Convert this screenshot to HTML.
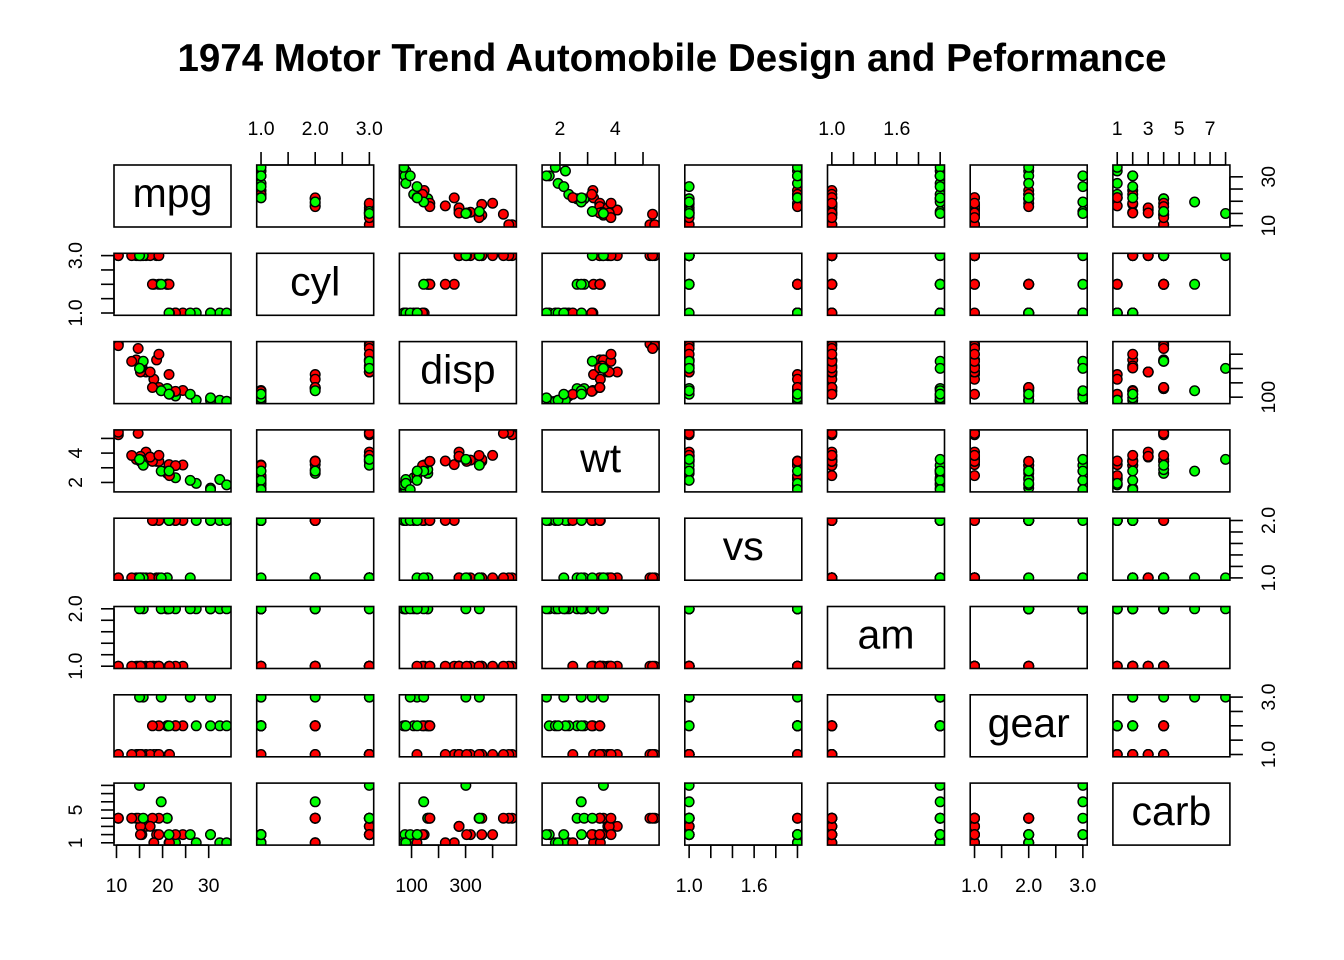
<!DOCTYPE html>
<html><head><meta charset="utf-8"><style>
html,body{margin:0;padding:0;background:#fff;}
svg{display:block;font-family:"Liberation Sans",Arial,sans-serif;}
</style></head><body>
<svg id="chart" width="1344" height="960" viewBox="0 0 1344 960" xmlns="http://www.w3.org/2000/svg">
<text x="672" y="71" text-anchor="middle" font-size="38.5" font-weight="bold">1974 Motor Trend Automobile Design and Peformance</text>
</svg>
<script>
const varNames = ["mpg","cyl","disp","wt","vs","am","gear","carb"];
const mpg  = [21.0,21.0,22.8,21.4,18.7,18.1,14.3,24.4,22.8,19.2,17.8,16.4,17.3,15.2,10.4,10.4,14.7,32.4,30.4,33.9,21.5,15.5,15.2,13.3,19.2,27.3,26.0,30.4,15.8,19.7,15.0,21.4];
const cyl  = [2,2,1,2,3,2,3,1,1,2,2,3,3,3,3,3,3,1,1,1,1,3,3,3,3,1,1,1,3,2,3,1];
const disp = [160,160,108,258,360,225,360,146.7,140.8,167.6,167.6,275.8,275.8,275.8,472,460,440,78.7,75.7,71.1,120.1,318,304,350,400,79,120.3,95.1,351,145,301,121];
const wt   = [2.620,2.875,2.320,3.215,3.440,3.460,3.570,3.190,3.150,3.440,3.440,4.070,3.730,3.780,5.250,5.424,5.345,2.200,1.615,1.835,2.465,3.520,3.435,3.840,3.845,1.935,2.140,1.513,3.170,2.770,3.570,2.780];
const vs   = [1,1,2,2,1,2,1,2,2,2,2,1,1,1,1,1,1,2,2,2,2,1,1,1,1,2,1,2,1,1,1,2];
const am   = [2,2,2,1,1,1,1,1,1,1,1,1,1,1,1,1,1,2,2,2,1,1,1,1,1,2,2,2,2,2,2,2];
const gear = [2,2,2,1,1,1,1,2,2,2,2,1,1,1,1,1,1,2,2,2,1,1,1,1,1,2,3,3,3,3,3,2];
const carb = [4,4,1,1,2,1,4,2,2,4,4,3,3,3,4,4,4,1,2,1,1,2,2,4,2,1,2,2,4,6,8,2];
const columns = [mpg,cyl,disp,wt,vs,am,gear,carb];
const tickVals = [[10,15,20,25,30,35],[1,1.5,2,2.5,3],[100,200,300,400],[2,3,4,5],[1,1.2,1.4,1.6,1.8,2],[1,1.2,1.4,1.6,1.8,2],[1,1.5,2,2.5,3],[1,2,3,4,5,6,7,8]];
const xTickLabels = [["10","20","30"],["1.0","2.0","3.0"],["100","300"],["2","4"],["1.0","1.6"],["1.0","1.6"],["1.0","2.0","3.0"],["1","3","5","7"]];
const yTickLabels = [["10","30"],["1.0","3.0"],["100"],["2","4"],["1.0","2.0"],["1.0","2.0"],["1.0","3.0"],["1","5"]];

const NS="http://www.w3.org/2000/svg";
const svg=document.getElementById('chart');
const X0=114, Y0=165, DX=142.7, DY=88.3, W=117, H=62;
function mk(tag,attrs,parent){const e=document.createElementNS(NS,tag);for(const k in attrs)e.setAttribute(k,attrs[k]);(parent||svg).appendChild(e);return e;}
function range(a){let mn=Math.min(...a),mx=Math.max(...a),d=(mx-mn)*0.04;return [mn-d,mx+d];}
const ranges=columns.map(range);
function sx(j,v){const r=ranges[j];return X0+j*DX+(v-r[0])/(r[1]-r[0])*W;}
function sy(i,v){const r=ranges[i];return Y0+i*DY+H-(v-r[0])/(r[1]-r[0])*H;}
function inR(k){return tickVals[k].filter(v=>v>=ranges[k][0]&&v<=ranges[k][1]);}
const defs=mk('defs',{});
for(let i=0;i<8;i++){for(let j=0;j<8;j++){
  const px=X0+j*DX, py=Y0+i*DY;
  if(i!==j){
    const cp=mk('clipPath',{id:'c'+i+'_'+j},defs);
    mk('rect',{x:px,y:py,width:W,height:H},cp);
    const g=mk('g',{'clip-path':'url(#c'+i+'_'+j+')'});
    
    
    for(let k=0;k<mpg.length;k++){
      const c=mk('circle',{cx:sx(j,columns[j][k]).toFixed(2),cy:sy(i,columns[i][k]).toFixed(2),r:4.8,fill:am[k]===1?'#FF0000':'#00FF00',stroke:'#000','stroke-width':1.4},g);
      
      
    }
  } else {
    const t=mk('text',{x:px+W/2,y:py+H/2+11,'text-anchor':'middle','font-size':41});
    t.textContent=varNames[i];
    
    
  }
  const b=mk('rect',{x:px,y:py,width:W,height:H,fill:'none',stroke:'#000','stroke-width':1.6});
  
  
}}
for(let j=0;j<8;j++){
  const top=(j%2===1);
  const g=mk('g',{});
  
  
  const yb= top? Y0 : Y0+7*DY+H;
  const dir= top? -1:1;
  const tv=inR(j);
  mk('line',{x1:sx(j,tv[0]),x2:sx(j,tv[tv.length-1]),y1:yb,y2:yb,stroke:'#000','stroke-width':1.6},g);
  tv.forEach(v=>mk('line',{x1:sx(j,v),x2:sx(j,v),y1:yb,y2:yb+dir*13,stroke:'#000','stroke-width':1.6},g));
  xTickLabels[j].forEach(s=>{const t=mk('text',{x:sx(j,parseFloat(s)),y:top?135:892,'text-anchor':'middle','font-size':19.5},g);t.textContent=s;});
}
for(let i=0;i<8;i++){
  const left=(i%2===1);
  const g=mk('g',{});
  
  
  const xb= left? X0 : X0+7*DX+W;
  const dir= left? -1:1;
  const tv=inR(i);
  mk('line',{x1:xb,x2:xb,y1:sy(i,tv[0]),y2:sy(i,tv[tv.length-1]),stroke:'#000','stroke-width':1.6},g);
  tv.forEach(v=>mk('line',{x1:xb,x2:xb+dir*13,y1:sy(i,v),y2:sy(i,v),stroke:'#000','stroke-width':1.6},g));
  const lx= left? 82 : 1275;
  yTickLabels[i].forEach(s=>{const y=sy(i,parseFloat(s));const t=mk('text',{x:lx,y:y,'text-anchor':'middle','font-size':19.5,transform:'rotate(-90 '+lx+' '+y+')'},g);t.textContent=s;});
}
</script>
</body></html>
